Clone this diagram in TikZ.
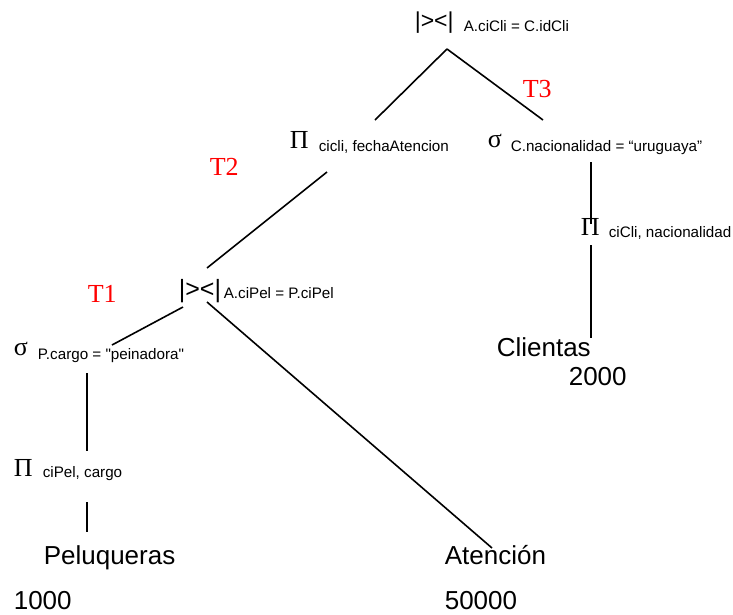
\documentclass[tikz,border=0pt]{standalone}
\usepackage{fontspec}
\setmainfont{Liberation Sans}
\newfontfamily\symfont{Liberation Serif}
\usetikzlibrary{positioning}

\begin{document}
\begin{tikzpicture}[x=1pt,y=-1pt,line width=1.6pt,
  op node/.style={inner sep=0pt,anchor=base west,font=\symfont\fontsize{26}{30}\selectfont},
  join node/.style={inner sep=0pt,anchor=base west,font=\fontsize{24}{28}\selectfont},
  cond node/.style={inner sep=0pt,anchor=base west,font=\fontsize{15.2}{18}\selectfont},
  rel node/.style={inner sep=0pt,anchor=base west,font=\fontsize{26}{30}\selectfont},
  tag node/.style={inner sep=0pt,anchor=base west,text=red,font=\symfont\fontsize{26}{30}\selectfont}]

\useasboundingbox (0,0) rectangle (733,614);

% top join
\node[join node,font=\fontsize{23}{27}\selectfont] (J1) at (414,28) {|><|};
\node[cond node] (J1c) at (463,31) {A.ciCli = C.idCli};
\node[tag node] (T3) at (522,97) {T3};

% left branch of top join
\node[op node] (PA) at (289,148) {Π};
\node[cond node] (PAc) at (318,151) {cicli, fechaAtencion};
\node[tag node] (T2) at (209,175) {T2};

% right branch: Clientas
\node[op node] (SC) at (487,147) {σ};
\node[cond node] (SCc) at (510,151) {C.nacionalidad = “uruguaya”};
\node[op node] (PC) at (580,235) {Π};
\node[cond node] (PCc) at (608,237) {ciCli, nacionalidad};
\node[rel node] (C) at (496,356) {Clientas};
\node[rel node] (Cn) at (568,385) {2000};

% lower join
\node[join node,font=\fontsize{25}{29}\selectfont] (J2) at (178,297) {|><|};
\node[cond node] (J2c) at (223,298) {A.ciPel = P.ciPel};
\node[tag node] (T1) at (87,302) {T1};

% Peluqueras
\node[op node] (SP) at (13,355) {σ};
\node[cond node] (SPc) at (37,359) {P.cargo = \textquotedbl peinadora\textquotedbl};
\node[op node] (PP) at (13,476) {Π};
\node[cond node] (PPc) at (42,477) {ciPel, cargo};
\node[rel node] (P) at (43,564) {Peluqueras};
\node[rel node] (Pn) at (13,609) {1000};

% Atencion
\node[rel node] (A) at (444,564) {Atención};
\node[rel node] (An) at (444,609) {50000};

% line ends
\coordinate (J1d) at (447,49);
\coordinate (PAu) at (375,120);
\coordinate (SCu) at (543,120);
\coordinate (PAd) at (327,172);
\coordinate (J2u) at (207,268);
\coordinate (SCd) at (591,162);
\coordinate (PCu) at (591,224);
\coordinate (PCd) at (591,245);
\coordinate (Cu) at (591,338);
\coordinate (J2l) at (183,307);
\coordinate (SPu) at (112,345);
\coordinate (J2r) at (207,302);
\coordinate (Au) at (492,548);
\coordinate (SPd) at (87,373);
\coordinate (PPu) at (87,451);
\coordinate (PPd) at (87,502);
\coordinate (Pu) at (87,532);

\path[draw]
    (J1d) edge (PAu)
    (J1d) edge (SCu)
    (PAd) edge (J2u)
    (SCd) edge (PCu)
    (PCd) edge (Cu)
    (J2l) edge (SPu)
    (J2r) edge (Au)
    (SPd) edge (PPu)
    (PPd) edge (Pu);
\end{tikzpicture}
\end{document}
